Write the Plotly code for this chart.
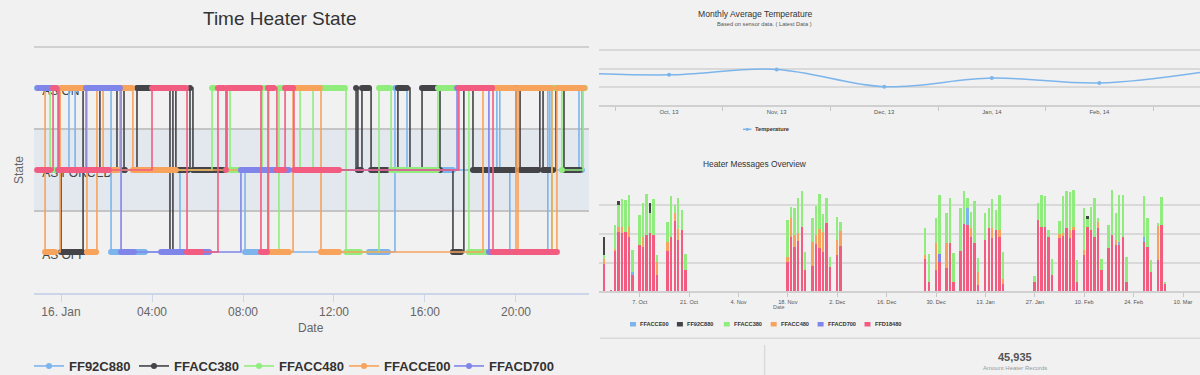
import pandas as pd
import plotly.graph_objects as go

W, H = 1200, 375
FONT = "Liberation Sans, Arial, sans-serif"


def px(x):
    return x / W


def py(y):
    return 1 - y / H


# ---------------- Time Heater State (left) ----------------
BASE_DAY = pd.Timestamp("2014-01-16 00:00")
state_levels = ["AS OFF", "AS FORCED", "AS ON"]
left_names = ["FF92C880", "FFACC380", "FFACC480", "FFACCE00", "FFACD700", "FFD18480"]
left_colors = ["#7cb5ec", "#434348", "#90ed7d", "#f7a35c", "#8085e9", "#f15c80"]

# runs: (start hour, end hour, state); hours after 16 Jan 2014 00:00
runs_ff92c880 = [(-1.06, -1.01, "AS ON"), (0.35, 0.35, "AS FORCED"), (0.62, 0.62, "AS ON"),
                 (2.20, 2.55, "AS OFF"), (3.21, 3.69, "AS OFF"), (5.23, 5.23, "AS FORCED"),
                 (8.09, 8.66, "AS OFF"), (13.54, 14.37, "AS OFF"), (14.68, 14.81, "AS ON"),
                 (15.21, 15.21, "AS FORCED"), (16.57, 17.23, "AS FORCED"), (19.16, 19.16, "AS ON"),
                 (19.29, 19.29, "AS FORCED"), (19.73, 19.87, "AS OFF"), (21.40, 21.40, "AS ON"),
                 (21.49, 21.49, "AS FORCED"), (22.77, 22.77, "AS ON"), (22.90, 22.90, "AS FORCED")]
runs_ffacc380 = [(-0.48, -0.48, "AS FORCED"), (0.00, 0.92, "AS OFF"), (0.97, 0.97, "AS ON"),
                 (1.71, 1.71, "AS FORCED"), (2.46, 2.46, "AS ON"), (2.77, 2.81, "AS FORCED"),
                 (3.34, 4.00, "AS ON"), (4.79, 4.84, "AS OFF"), (4.92, 4.92, "AS ON"),
                 (5.05, 5.58, "AS FORCED"), (5.67, 5.67, "AS ON"), (5.80, 7.16, "AS FORCED"),
                 (12.97, 12.97, "AS ON"), (13.05, 13.19, "AS FORCED"), (13.23, 13.54, "AS ON"),
                 (13.63, 14.33, "AS FORCED"), (14.81, 15.21, "AS ON"), (15.34, 15.43, "AS FORCED"),
                 (15.87, 16.53, "AS ON"), (16.66, 16.66, "AS FORCED"), (17.23, 17.58, "AS OFF"),
                 (17.71, 17.71, "AS ON"), (18.11, 19.96, "AS FORCED"), (20.00, 20.00, "AS ON"),
                 (20.18, 20.97, "AS FORCED"), (21.05, 21.05, "AS ON"), (21.19, 21.63, "AS FORCED"),
                 (21.76, 21.76, "AS ON"), (22.11, 22.81, "AS FORCED")]
runs_ffacc480 = [(-0.70, -0.66, "AS ON"), (-0.48, -0.13, "AS FORCED"), (6.64, 6.73, "AS ON"),
                 (7.43, 7.82, "AS FORCED"), (8.84, 9.01, "AS ON"), (9.14, 9.14, "AS OFF"),
                 (9.58, 9.85, "AS ON"), (10.51, 10.51, "AS FORCED"), (11.08, 12.48, "AS ON"),
                 (12.53, 13.14, "AS OFF"), (13.98, 14.46, "AS ON"), (14.51, 16.53, "AS FORCED"),
                 (16.57, 17.32, "AS ON"), (17.93, 18.68, "AS OFF"), (21.58, 21.80, "AS ON"),
                 (22.02, 22.02, "AS FORCED"), (22.95, 23.03, "AS ON")]
runs_ffacce00 = [(-1.01, -1.01, "AS ON"), (-0.70, -0.26, "AS OFF"), (-0.04, 1.10, "AS ON"),
                 (1.14, 1.54, "AS OFF"), (1.58, 1.80, "AS ON"), (1.85, 2.51, "AS FORCED"),
                 (2.59, 3.12, "AS ON"), (3.16, 5.05, "AS FORCED"), (9.10, 10.02, "AS OFF"),
                 (10.20, 11.38, "AS ON"), (11.43, 12.22, "AS OFF"), (18.55, 19.96, "AS ON"),
                 (20.00, 20.00, "AS OFF"), (20.09, 21.54, "AS ON"), (21.58, 21.58, "AS OFF"),
                 (21.80, 22.99, "AS ON")]
runs_ffacd700 = [(-1.01, -0.22, "AS ON"), (-0.13, 0.05, "AS FORCED"), (1.10, 2.59, "AS ON"),
                 (2.64, 3.21, "AS OFF"), (4.40, 5.41, "AS OFF"), (6.15, 6.51, "AS OFF"),
                 (7.91, 10.02, "AS FORCED"), (17.41, 17.41, "AS ON"), (18.81, 18.95, "AS OFF"),
                 (19.69, 19.74, "AS OFF")]
runs_ffd18480 = [(-1.05, -0.48, "AS FORCED"), (-0.35, -0.22, "AS ON"), (-0.09, 2.11, "AS FORCED"),
                 (4.00, 5.49, "AS ON"), (5.54, 6.15, "AS OFF"), (6.90, 7.16, "AS ON"),
                 (7.25, 7.25, "AS FORCED"), (7.30, 8.75, "AS ON"), (8.79, 9.05, "AS OFF"),
                 (9.10, 9.36, "AS ON"), (9.49, 9.80, "AS FORCED"), (9.85, 10.20, "AS ON"),
                 (10.24, 12.22, "AS FORCED"), (17.49, 18.95, "AS ON"), (18.99, 19.69, "AS OFF"),
                 (19.87, 21.80, "AS OFF")]
left_runs = [runs_ff92c880, runs_ffacc380, runs_ffacc480, runs_ffacce00, runs_ffacd700, runs_ffd18480]

time_tick_values = ["2014-01-16 00:00:00", "2014-01-16 04:00:00", "2014-01-16 08:00:00",
                    "2014-01-16 12:00:00", "2014-01-16 16:00:00", "2014-01-16 20:00:00"]
time_tick_labels = ["16. Jan", "04:00", "08:00", "12:00", "16:00", "20:00"]

# ---------------- Monthly Average Temperature ----------------
months = ["Sep, 13", "Oct, 13", "Nov, 13", "Dec, 13", "Jan, 14", "Feb, 14", "Mar, 14"]
temperature = [18.0, 16.6, 19.6, 10.1, 14.8, 12.1, 18.5]

# ---------------- Heater Messages Overview ----------------
msg_dates = [
    "2013-09-27", "2013-09-29", "2013-09-30", "2013-10-01", "2013-10-02", "2013-10-03", "2013-10-04", "2013-10-05",
    "2013-10-07", "2013-10-08", "2013-10-09", "2013-10-10", "2013-10-11", "2013-10-12",
    "2013-10-15", "2013-10-16", "2013-10-17", "2013-10-18", "2013-10-19", "2013-10-20",
    "2013-11-18", "2013-11-19", "2013-11-20", "2013-11-21", "2013-11-22", "2013-11-23",
    "2013-11-25", "2013-11-26", "2013-11-27", "2013-11-28", "2013-11-29", "2013-11-30",
    "2013-12-02", "2013-12-03",
    "2013-12-27", "2013-12-28", "2013-12-30", "2013-12-31",
    "2014-01-02", "2014-01-03", "2014-01-04", "2014-01-06", "2014-01-07", "2014-01-08", "2014-01-09", "2014-01-10", "2014-01-11",
    "2014-01-13", "2014-01-14", "2014-01-15", "2014-01-16", "2014-01-17", "2014-01-18",
    "2014-01-27", "2014-01-28", "2014-01-29", "2014-01-30", "2014-01-31", "2014-02-01",
    "2014-02-03", "2014-02-04", "2014-02-05", "2014-02-06", "2014-02-07", "2014-02-08",
    "2014-02-10", "2014-02-11", "2014-02-12", "2014-02-13", "2014-02-14", "2014-02-15",
    "2014-02-17", "2014-02-18", "2014-02-19", "2014-02-20", "2014-02-21", "2014-02-22",
    "2014-02-27", "2014-02-28", "2014-03-01", "2014-03-03", "2014-03-04", "2014-03-05",
]
msg_ffd18480 = [194, 12, 288, 417, 405, 412, 381, 117,
                323, 311, 393, 405, 393, 112,
                281, 381, 494, 358, 428, 147,
                206, 381, 311, 351, 452, 147,
                178, 328, 300, 276, 475, 171,
                253, 318,
                225, 66, 147, 206,
                164, 335, 66, 281, 468, 463, 381, 335, 42,
                358, 440, 370, 428, 381, 54,
                66, 498, 452, 452, 381, 112,
                370, 393, 440, 370, 428, 66,
                253, 452, 428, 381, 440, 147,
                300, 393, 323, 323, 381, 66,
                346, 311, 136, 218, 463, 54]
msg_ffacc480 = [35, 0, 7, 35, 47, 0, 70, 0,
                0, 70, 0, 0, 0, 94,
                66, 0, 51, 77, 0, 0,
                35, 129, 82, 54, 0, 0,
                168, 66, 136, 140, 0, 0,
                105, 103,
                28, 0, 187, 0,
                171, 0, 0, 0, 0, 0, 59, 0, 94,
                0, 0, 70, 0, 47, 35,
                0, 0, 0, 0, 0, 0,
                30, 12, 0, 59, 23, 0,
                35, 0, 0, 0, 47, 0,
                0, 0, 35, 0, 0, 0,
                0, 0, 0, 246, 0, 0]
msg_ffacc380 = [23, 0, 168, 152, 194, 227, 222, 151,
                211, 234, 288, 140, 253, 47,
                140, 281, 54, 215, 140, 112,
                257, 82, 187, 246, 246, 129,
                164, 199, 243, 124, 176, 70,
                164, 66,
                187, 192, 176, 417,
                211, 316, 199, 300, 234, 70, 117, 297, 94,
                187, 140, 204, 140, 246, 187,
                40, 117, 222, 210, 47, 117,
                94, 257, 257, 264, 257, 152,
                297, 51, 164, 269, 23, 82,
                164, 316, 187, 328, 293, 176,
                281, 199, 82, 12, 192, 12]
msg_ffacce00_dates = ["2013-10-05", "2014-01-08", "2014-02-20", "2014-02-27"]
msg_ffacce00 = [20, 117, 23, 35]
msg_ff92c880_dates = ["2013-09-27", "2013-10-01", "2013-10-10", "2014-02-11"]
msg_ff92c880 = [129, 23, 70, 23]
msg_ffacd700_dates = ["2013-12-31"]
msg_ffacd700 = [51]

heater_names = ["FFACCE00", "FF92C880", "FFACC380", "FFACC480", "FFACD700", "FFD18480"]
heater_colors = ["#7cb5ec", "#434348", "#90ed7d", "#f7a35c", "#8085e9", "#f15c80"]

total_records = "45,935"

# ---------------- build figure ----------------
fig = go.Figure()


def to_time(h):
    return (BASE_DAY + pd.to_timedelta(h, unit="h")).strftime("%Y-%m-%d %H:%M:%S")


def level(st):
    return state_levels.index(st)


# category labels drawn beneath the data (as in the original, where markers cover them)
fig.add_trace(go.Scatter(
    x=[to_time(-0.83)] * len(state_levels), y=[level(s) - 0.045 for s in state_levels],
    text=state_levels, mode="text", textposition="middle right",
    textfont=dict(family=FONT, size=12, color="#444"),
    showlegend=False, hoverinfo="skip", xaxis="x", yaxis="y"))

for name, color, runs in zip(left_names, left_colors, left_runs):
    xs, ys, tx, ty = [], [], [], []
    for s, e, st in runs:
        xs.append(to_time(s))
        ys.append(level(st))
        if e > s:
            xs.append(to_time(e))
            ys.append(level(st))
            tx += [to_time(s), to_time(e), None]
            ty += [level(st), level(st), None]
    fig.add_trace(go.Scatter(
        x=xs, y=ys, mode="lines+markers", name=name, legendgroup=name,
        showlegend=(name != "FFD18480"),
        line=dict(color=color, width=1.6, shape="hv"),
        marker=dict(size=6, color=color),
        xaxis="x", yaxis="y", hoverinfo="skip"))
    fig.add_trace(go.Scatter(
        x=tx, y=ty, mode="lines", legendgroup=name, showlegend=False,
        line=dict(color=color, width=6),
        xaxis="x", yaxis="y", hoverinfo="skip"))

fig.add_trace(go.Scatter(
    x=months, y=temperature, mode="lines+markers", showlegend=False,
    line=dict(color="#7cb5ec", width=1.5, shape="spline", smoothing=1.0),
    marker=dict(size=4, color="#7cb5ec"), xaxis="x2", yaxis="y2"))

bar_w = 0.55 * 86400000
stack = [
    ("FFD18480", msg_dates, msg_ffd18480, "#f15c80"),
    ("FFACC480", msg_dates, msg_ffacc480, "#f7a35c"),
    ("FFACD700", msg_ffacd700_dates, msg_ffacd700, "#8085e9"),
    ("FFACCE00", msg_ffacce00_dates, msg_ffacce00, "#7cb5ec"),
    ("FFACC380", msg_dates, msg_ffacc380, "#90ed7d"),
    ("FF92C880", msg_ff92c880_dates, msg_ff92c880, "#434348"),
]
for name, dts, vals, color in stack:
    fig.add_trace(go.Bar(
        x=pd.to_datetime(dts), y=vals, name=name, showlegend=False,
        marker=dict(color=color, line=dict(width=0)), width=bar_w,
        xaxis="x3", yaxis="y3"))

grid_right = "#d9d9d9"

fig.update_layout(
    width=W, height=H,
    margin=dict(l=0, r=0, t=0, b=0, autoexpand=False),
    paper_bgcolor="#f1f1f1", plot_bgcolor="rgba(0,0,0,0)",
    font=dict(family=FONT, color="#333"),
    barmode="stack",
    xaxis=dict(domain=[px(34), px(589)], anchor="y", type="date",
               range=[to_time(-1.187), to_time(23.21)],
               tickmode="array", tickvals=time_tick_values, ticktext=time_tick_labels,
               ticks="outside", ticklen=7, tickcolor="#ccd6eb", tickwidth=1.2,
               showline=True, linecolor="#ccd6eb", linewidth=1.5,
               showgrid=False, zeroline=False,
               tickfont=dict(family=FONT, size=12, color="#666")),
    yaxis=dict(domain=[py(293), py(47)], anchor="x",
               range=[-0.5, 2.5], tickmode="array", tickvals=[-0.5, 0.5, 1.5, 2.5],
               showticklabels=False, ticks="",
               showgrid=True, gridcolor="#c4c4c4", gridwidth=1.5,
               zeroline=False, showline=False),
    xaxis2=dict(domain=[px(599), 1], anchor="y2", type="category",
                categoryorder="array", categoryarray=months,
                range=[0.349, 5.935], tickson="boundaries",
                ticks="outside", ticklen=4, tickcolor="#c8c8c8",
                showline=True, linecolor="#d0d0d0", linewidth=1.5,
                showgrid=False, zeroline=False,
                tickfont=dict(family=FONT, size=5.9, color="#555")),
    yaxis2=dict(domain=[py(105), py(32.3)], anchor="x2", range=[0, 40], dtick=10,
                showticklabels=False, gridcolor=grid_right, gridwidth=1.5, zeroline=False),
    xaxis3=dict(domain=[px(599), 1], anchor="y3", type="date",
                range=["2013-09-25 11:00", "2014-03-14 19:40"],
                tick0="2013-10-07", dtick=14 * 86400000, tickformat="%-d. %b",
                ticks="outside", ticklen=4, tickcolor="#c8c8c8",
                showline=True, linecolor="#d0d0d0", linewidth=1.5,
                showgrid=False, zeroline=False,
                tickfont=dict(family=FONT, size=5.6, color="#555")),
    yaxis3=dict(domain=[py(291.3), py(176.7)], anchor="x3", range=[0, 800], dtick=200,
                showticklabels=False, gridcolor=grid_right, gridwidth=1.5, zeroline=False),
    legend=dict(orientation="h", x=px(29), xanchor="left", y=py(366), yanchor="middle",
                entrywidth=60, entrywidthmode="pixels", bgcolor="rgba(0,0,0,0)",
                font=dict(family=FONT, size=13, color="#333", weight="bold")),
)

shapes = [
    dict(type="rect", xref="x domain", yref="y", x0=0, x1=1, y0=0.5, y1=1.5,
         fillcolor="#e2e8ed", line=dict(width=0), layer="below"),
    dict(type="line", xref="x domain", yref="y domain", x0=0, x1=1, y0=1, y1=1,
         line=dict(color="#c4c4c4", width=1.5), layer="below"),
    dict(type="line", xref="paper", yref="paper", x0=px(600), x1=1, y0=py(338.3), y1=py(338.3),
         line=dict(color="#dadada", width=1.5)),
    dict(type="line", xref="paper", yref="paper", x0=px(764.6), x1=px(764.6), y0=py(345), y1=0,
         line=dict(color="#dadada", width=1.5)),
    dict(type="line", xref="paper", yref="paper", x0=px(743), x1=px(751.5), y0=py(129.3), y1=py(129.3),
         line=dict(color="#7cb5ec", width=1.5)),
    dict(type="circle", xref="paper", yref="paper", x0=px(745.7), x1=px(748.9), y0=py(130.9), y1=py(127.7),
         fillcolor="#7cb5ec", line=dict(width=0)),
]
annotations = [
    dict(text="Time Heater State", x=px(279), y=py(19), font=dict(size=19, color="#333")),
    dict(text="State", x=px(19), y=py(170), textangle=-90, font=dict(size=12, color="#666")),
    dict(text="Date", x=px(311), y=py(328), font=dict(size=12, color="#666")),
    dict(text="Monthly Average Temperature", x=px(755), y=py(14), font=dict(size=8.6, color="#333")),
    dict(text="Based on sensor data. ( Latest Data )", x=px(764), y=py(24.3), font=dict(size=5.7, color="#555")),
    dict(text="Temperature", x=px(753), y=py(129.3), xanchor="left",
         font=dict(size=5.7, color="#333", weight="bold")),
    dict(text="Heater Messages Overview", x=px(755.4), y=py(164.3), font=dict(size=8.4, color="#333")),
    dict(text="Date", x=px(778), y=py(306.7), font=dict(size=5.4, color="#666")),
    dict(text=total_records, x=px(1014.8), y=py(357.3), font=dict(size=11, color="#555", weight="bold")),
    dict(text="Amount Heater Records", x=px(1014.8), y=py(367.7), font=dict(size=6, color="#999")),
]
for i, (name, color) in enumerate(zip(heater_names, heater_colors)):
    x0 = 630 + i * 46.9
    shapes.append(dict(type="rect", xref="paper", yref="paper", x0=px(x0), x1=px(x0 + 6),
                       y0=py(326.5), y1=py(322), fillcolor=color, line=dict(width=0)))
    annotations.append(dict(text=name, x=px(x0 + 8), y=py(324.3), xanchor="left",
                            font=dict(size=5.6, color="#333", weight="bold")))

for a in annotations:
    a.setdefault("xref", "paper")
    a.setdefault("yref", "paper")
    a.setdefault("xanchor", "center")
    a.setdefault("yanchor", "middle")
    a.setdefault("showarrow", False)
    a["font"].setdefault("family", FONT)

fig.update_layout(shapes=shapes, annotations=annotations)

fig.write_html("out.html", config={"displayModeBar": False},
               post_script="document.body.style.margin='0';document.body.style.overflow='hidden';")
